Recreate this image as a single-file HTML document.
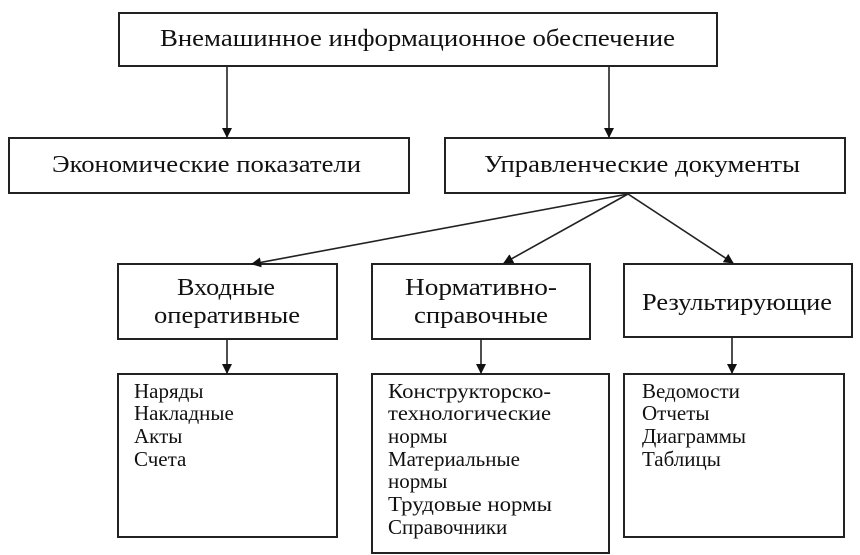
<!DOCTYPE html>
<html><head><meta charset="utf-8"><style>
html,body{margin:0;padding:0;background:#fff;width:860px;height:555px;overflow:hidden}
svg{display:block}
text{font-family:"Liberation Serif","DejaVu Serif",serif;fill:#111}
</style></head><body>
<svg width="860" height="555" viewBox="0 0 860 555" xmlns="http://www.w3.org/2000/svg">
<defs><marker id="a" markerWidth="10" markerHeight="10" refX="9" refY="5" orient="auto" markerUnits="userSpaceOnUse"><path d="M0,0 L10,5 L0,10 z" fill="#111"/></marker></defs>
<g fill="none" stroke="#222" stroke-width="2">
<rect x="119" y="13" width="598" height="53"/>
<rect x="9" y="138" width="400" height="55"/>
<rect x="445" y="138" width="400" height="55"/>
<rect x="118" y="264" width="219" height="75"/>
<rect x="372" y="264" width="218" height="75"/>
<rect x="624" y="264" width="228" height="73"/>
<rect x="118" y="374" width="219" height="163"/>
<rect x="372" y="374" width="237" height="179"/>
<rect x="624" y="374" width="220" height="163"/>
</g>
<g stroke="#222" stroke-width="1.6" marker-end="url(#a)">
<line x1="227" y1="66" x2="227" y2="137"/>
<line x1="609" y1="66" x2="609" y2="137"/>
<line x1="628" y1="194" x2="252" y2="264"/>
<line x1="628" y1="194" x2="504" y2="263"/>
<line x1="628" y1="194" x2="733" y2="263"/>
<line x1="227" y1="339" x2="227" y2="373"/>
<line x1="481" y1="339" x2="481" y2="373"/>
<line x1="732" y1="337" x2="732" y2="373"/>
</g>
<g font-size="24">
<text x="160" y="46" textLength="515" lengthAdjust="spacingAndGlyphs">Внемашинное информационное обеспечение</text>
<text x="52" y="172" textLength="309" lengthAdjust="spacingAndGlyphs">Экономические показатели</text>
<text x="484" y="172" textLength="316" lengthAdjust="spacingAndGlyphs">Управленческие  документы</text>
<text x="177" y="295" textLength="98" lengthAdjust="spacingAndGlyphs">Входные</text>
<text x="154" y="323" textLength="146" lengthAdjust="spacingAndGlyphs">оперативные</text>
<text x="405" y="295" textLength="152" lengthAdjust="spacingAndGlyphs">Нормативно-</text>
<text x="414" y="323" textLength="134" lengthAdjust="spacingAndGlyphs">справочные</text>
<text x="642" y="310" textLength="190" lengthAdjust="spacingAndGlyphs">Результирующие</text>
</g>
<g font-size="21">
<text x="134" y="398">Наряды</text>
<text x="134" y="420">Накладные</text>
<text x="134" y="443">Акты</text>
<text x="134" y="466">Счета</text>
<text x="388" y="398" textLength="163" lengthAdjust="spacingAndGlyphs">Конструкторско-</text>
<text x="388" y="420" textLength="163" lengthAdjust="spacingAndGlyphs">технологические</text>
<text x="388" y="443">нормы</text>
<text x="388" y="466">Материальные</text>
<text x="388" y="488">нормы</text>
<text x="388" y="511" textLength="164" lengthAdjust="spacingAndGlyphs">Трудовые нормы</text>
<text x="388" y="534">Справочники</text>
<text x="642" y="398">Ведомости</text>
<text x="642" y="420">Отчеты</text>
<text x="642" y="443">Диаграммы</text>
<text x="642" y="466">Таблицы</text>
</g>
</svg>
</body></html>
